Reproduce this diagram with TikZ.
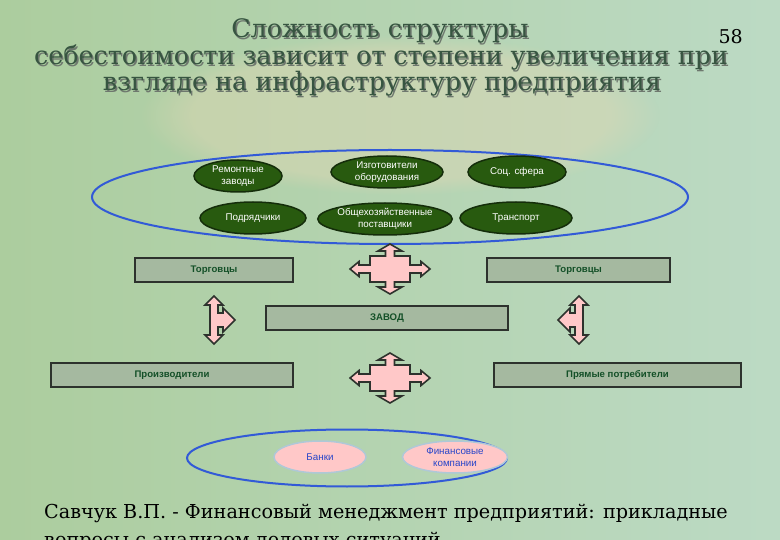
\documentclass[tikz,border=0pt]{standalone}
\usepackage{fontspec}
\setmainfont{DejaVu Serif}
\newfontfamily\labelfont{Liberation Sans}
\usepackage{graphicx}
\usetikzlibrary{shapes.geometric,fadings}
\definecolor{ringblue}{RGB}{50,90,215}
\definecolor{darkleaf}{RGB}{40,90,15}
\definecolor{leafedge}{RGB}{20,45,10}
\definecolor{boxfill}{RGB}{165,185,160}
\definecolor{boxedge}{RGB}{45,50,45}
\definecolor{boxtext}{RGB}{20,80,40}
\definecolor{arrowpink}{RGB}{255,200,200}
\definecolor{bankedge}{RGB}{175,200,215}
\definecolor{banktext}{RGB}{40,70,200}
\definecolor{titlegreen}{RGB}{55,85,65}
\definecolor{titleshade}{RGB}{110,120,110}
\definecolor{bgleft}{RGB}{172,205,158}
\definecolor{bgright}{RGB}{188,218,196}
\definecolor{bgwarm}{RGB}{225,215,180}
\newcommand{\shadowed}[1]{\rlap{\kern1.5pt\raisebox{-1.5pt}{\textcolor{titleshade}{#1}}}\textcolor{titlegreen}{#1}}

\begin{document}
\begin{tikzpicture}[x=1pt, y=-1pt,
  ring/.style={ellipse, draw=ringblue, line width=2pt, inner sep=0pt},
  leaf/.style={ellipse, draw=leafedge, line width=1.5pt, fill=darkleaf, text=white, inner sep=0pt,
    align=center, minimum height=32, font=\labelfont\fontsize{9.8}{12}\selectfont},
  bank/.style={ellipse, draw=bankedge, line width=1.5pt, fill=arrowpink, text=banktext, inner sep=0pt,
    align=center, minimum height=32, font=\labelfont\fontsize{9.8}{12}\selectfont},
  unit/.style={rectangle, draw=boxedge, line width=2pt, fill=boxfill, text=boxtext, inner sep=0pt,
    minimum height=24, font=\labelfont\bfseries\fontsize{9.6}{11}\selectfont},
  arrowbox/.style={draw=boxedge, line width=1.6pt, fill=arrowpink},
  titletext/.style={anchor=base, inner sep=0pt, font=\fontsize{25.4}{30}\selectfont},
  quadarrow/.pic={
    \draw[arrowbox] (0,-25) -- (12,-18) -- (4.5,-18) -- (4.5,-13) -- (20,-13) -- (20,-4) -- (31,-4)
      -- (31,-7.5) -- (40,0) -- (31,7.5) -- (31,4) -- (20,4) -- (20,13) -- (4.5,13) -- (4.5,18)
      -- (12,18) -- (0,25) -- (-12,18) -- (-4.5,18) -- (-4.5,13) -- (-20,13) -- (-20,4) -- (-31,4)
      -- (-31,7.5) -- (-40,0) -- (-31,-7.5) -- (-31,-4) -- (-20,-4) -- (-20,-13) -- (-4.5,-13)
      -- (-4.5,-18) -- (-12,-18) -- cycle;
  },
  sidearrow/.pic={
    \draw[arrowbox] (0,-24) -- (9,-15) -- (4,-15) -- (4,-7) -- (9,-7) -- (9,-12) -- (21,0)
      -- (9,12) -- (9,7) -- (4,7) -- (4,15) -- (9,15) -- (0,24) -- (-9,15) -- (-4,15)
      -- (-4,-15) -- (-9,-15) -- cycle;
  }]
  \useasboundingbox (0,0) rectangle (780,540);
  % Background
  \shade[left color=bgleft, right color=bgright] (0,0) rectangle (780,540);
  \fill[bgwarm, opacity=0.45, path fading=circle with fuzzy edge 20 percent] (400,115) ellipse [x radius=260, y radius=80];

  % Title
  \node[titletext] (title1) at (380,38) {\shadowed{Сложность структуры}};
  \node[titletext] (title2) at (381,65) {\shadowed{себестоимости зависит от степени увеличения при}};
  \node[titletext] (title3) at (382,91) {\shadowed{взгляде на инфраструктуру предприятия}};
  \node[anchor=base east, inner sep=0pt, font=\fontsize{19}{23}\selectfont] (page) at (743,44) {58};

  % Suppliers
  \node[ring, minimum width=596, minimum height=94] (supplyring) at (390,197) {};
  \node[leaf, minimum width=88] (remont) at (238,176) {Ремонтные\\заводы};
  \node[leaf, minimum width=112] (izgot) at (387,172) {Изготовители\\оборудования};
  \node[leaf, minimum width=98] (soc) at (517,172) {Соц. сфера};
  \node[leaf, minimum width=106] (podr) at (253,218) {Подрядчики};
  \node[leaf, minimum width=112] (obsch) at (385,219) {Общехозяйственные\\поставщики};
  \node[leaf, minimum width=112] (transp) at (516,218) {Транспорт};

  % Boxes
  \node[unit, minimum width=158] (traderL) at (214,270.5) {Торговцы};
  \node[unit, minimum width=183] (traderR) at (578.5,270.5) {Торговцы};
  \node[unit, minimum width=242] (plant) at (387,318) {ЗАВОД};
  \node[unit, minimum width=242] (producers) at (172,375) {Производители};
  \node[unit, minimum width=247] (consumers) at (617.5,375) {Прямые потребители};

  % Arrows
  \pic at (390,269) {quadarrow};
  \pic at (390,378) {quadarrow};
  \pic at (214,320) {sidearrow};
  \pic[xscale=-1] at (579,320) {sidearrow};

  % Finance
  \node[ring, minimum width=320, minimum height=57] (financering) at (347,458) {};
  \node[bank, minimum width=92] (banks) at (320,457) {Банки};
  \node[bank, minimum width=105] (fincomp) at (455,457) {Финансовые\\компании};

  % Source
  \node[anchor=base west, inner sep=0pt, font=\fontsize{19.2}{28}\selectfont] (source1) at (44,518)
    {Савчук В.П. - Финансовый менеджмент предприятий: прикладные};
  \node[anchor=base west, inner sep=0pt, font=\fontsize{19.2}{28}\selectfont] (source2) at (44,546)
    {вопросы с анализом деловых ситуаций};
\end{tikzpicture}
\end{document}
